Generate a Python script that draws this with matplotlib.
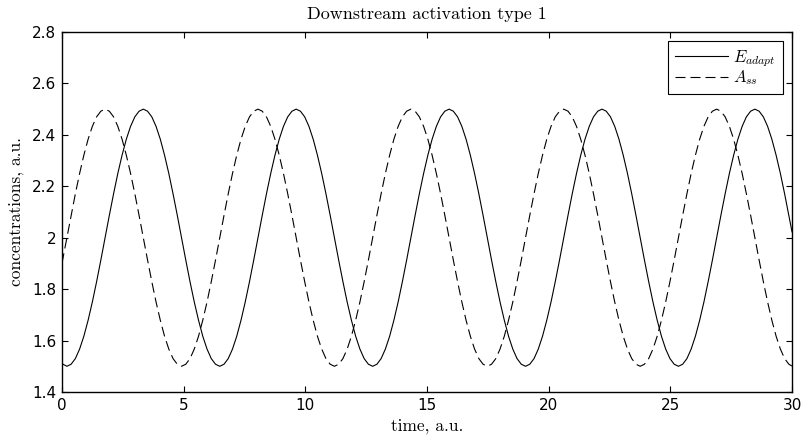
import matplotlib
matplotlib.use("Agg")
import matplotlib.pyplot as plt

time = [0.0,
    0.200, 0.375, 0.549, 0.724, 0.898, 1.073, 1.247, 1.422, 1.596,
    1.771, 1.945, 2.120, 2.294, 2.469, 2.643, 2.818, 2.993, 3.167,
    3.342, 3.516, 3.691, 3.865, 4.040, 4.214, 4.389, 4.563, 4.738,
    4.912, 5.087, 5.261, 5.436, 5.611, 5.785, 5.960, 6.134, 6.309,
    6.483, 6.658, 6.832, 7.007, 7.181, 7.356, 7.530, 7.705, 7.879,
    8.054, 8.229, 8.403, 8.578, 8.752, 8.927, 9.101, 9.276, 9.450,
    9.625, 9.799, 9.974, 10.148, 10.323, 10.497, 10.672, 10.847, 11.021,
    11.196, 11.370, 11.545, 11.719, 11.894, 12.068, 12.243, 12.417, 12.592,
    12.766, 12.941, 13.115, 13.290, 13.465, 13.639, 13.814, 13.988, 14.163,
    14.337, 14.512, 14.686, 14.861, 15.035, 15.210, 15.384, 15.559, 15.733,
    15.908, 16.082, 16.257, 16.432, 16.606, 16.781, 16.955, 17.130, 17.304,
    17.479, 17.653, 17.828, 18.002, 18.177, 18.351, 18.526, 18.700, 18.875,
    19.050, 19.224, 19.399, 19.573, 19.748, 19.922, 20.097, 20.271, 20.446,
    20.620, 20.795, 20.969, 21.144, 21.318, 21.493, 21.668, 21.842, 22.017,
    22.191, 22.366, 22.540, 22.715, 22.889, 23.064, 23.238, 23.413, 23.587,
    23.762, 23.936, 24.111, 24.286, 24.460, 24.635, 24.809, 24.984, 25.158,
    25.333, 25.507, 25.682, 25.856, 26.031, 26.205, 26.380, 26.554, 26.729,
    26.904, 27.078, 27.253, 27.427, 27.602, 27.776, 27.951, 28.125, 28.300,
    28.474, 28.649, 28.823, 28.998, 29.172, 29.347, 29.522, 29.696, 29.871,
    30.0]

E_adapt = [1.510,
    1.500, 1.508, 1.530, 1.567, 1.617, 1.679, 1.750, 1.829, 1.913,
    2.000, 2.087, 2.171, 2.250, 2.321, 2.383, 2.433, 2.470, 2.492,
    2.500, 2.492, 2.470, 2.433, 2.383, 2.321, 2.250, 2.171, 2.087,
    2.000, 1.913, 1.829, 1.750, 1.679, 1.617, 1.567, 1.530, 1.508,
    1.500, 1.508, 1.530, 1.567, 1.617, 1.679, 1.750, 1.829, 1.913,
    2.000, 2.087, 2.171, 2.250, 2.321, 2.383, 2.433, 2.470, 2.492,
    2.500, 2.492, 2.470, 2.433, 2.383, 2.321, 2.250, 2.171, 2.087,
    2.000, 1.913, 1.829, 1.750, 1.679, 1.617, 1.567, 1.530, 1.508,
    1.500, 1.508, 1.530, 1.567, 1.617, 1.679, 1.750, 1.829, 1.913,
    2.000, 2.087, 2.171, 2.250, 2.321, 2.383, 2.433, 2.470, 2.492,
    2.500, 2.492, 2.470, 2.433, 2.383, 2.321, 2.250, 2.171, 2.087,
    2.000, 1.913, 1.829, 1.750, 1.679, 1.617, 1.567, 1.530, 1.508,
    1.500, 1.508, 1.530, 1.567, 1.617, 1.679, 1.750, 1.829, 1.913,
    2.000, 2.087, 2.171, 2.250, 2.321, 2.383, 2.433, 2.470, 2.492,
    2.500, 2.492, 2.470, 2.433, 2.383, 2.321, 2.250, 2.171, 2.087,
    2.000, 1.913, 1.829, 1.750, 1.679, 1.617, 1.567, 1.530, 1.508,
    1.500, 1.508, 1.530, 1.567, 1.617, 1.679, 1.750, 1.829, 1.913,
    2.000, 2.087, 2.171, 2.250, 2.321, 2.383, 2.433, 2.470, 2.492,
    2.500, 2.492, 2.470, 2.433, 2.383, 2.321, 2.250, 2.171, 2.087,
    2.023]

A_ss = [1.901,
    2.000, 2.087, 2.171, 2.250, 2.321, 2.383, 2.433, 2.470, 2.492,
    2.500, 2.492, 2.470, 2.433, 2.383, 2.321, 2.250, 2.171, 2.087,
    2.000, 1.913, 1.829, 1.750, 1.679, 1.617, 1.567, 1.530, 1.508,
    1.500, 1.508, 1.530, 1.567, 1.617, 1.679, 1.750, 1.829, 1.913,
    2.000, 2.087, 2.171, 2.250, 2.321, 2.383, 2.433, 2.470, 2.492,
    2.500, 2.492, 2.470, 2.433, 2.383, 2.321, 2.250, 2.171, 2.087,
    2.000, 1.913, 1.829, 1.750, 1.679, 1.617, 1.567, 1.530, 1.508,
    1.500, 1.508, 1.530, 1.567, 1.617, 1.679, 1.750, 1.829, 1.913,
    2.000, 2.087, 2.171, 2.250, 2.321, 2.383, 2.433, 2.470, 2.492,
    2.500, 2.492, 2.470, 2.433, 2.383, 2.321, 2.250, 2.171, 2.087,
    2.000, 1.913, 1.829, 1.750, 1.679, 1.617, 1.567, 1.530, 1.508,
    1.500, 1.508, 1.530, 1.567, 1.617, 1.679, 1.750, 1.829, 1.913,
    2.000, 2.087, 2.171, 2.250, 2.321, 2.383, 2.433, 2.470, 2.492,
    2.500, 2.492, 2.470, 2.433, 2.383, 2.321, 2.250, 2.171, 2.087,
    2.000, 1.913, 1.829, 1.750, 1.679, 1.617, 1.567, 1.530, 1.508,
    1.500, 1.508, 1.530, 1.567, 1.617, 1.679, 1.750, 1.829, 1.913,
    2.000, 2.087, 2.171, 2.250, 2.321, 2.383, 2.433, 2.470, 2.492,
    2.500, 2.492, 2.470, 2.433, 2.383, 2.321, 2.250, 2.171, 2.087,
    2.000, 1.913, 1.829, 1.750, 1.679, 1.617, 1.567, 1.530, 1.508,
    1.501]

x_ticks = [0, 5, 10, 15, 20, 25, 30]
x_ticklabels = ["0", "5", "10", "15", "20", "25", "30"]
y_ticks = [1.4, 1.6, 1.8, 2.0, 2.2, 2.4, 2.6, 2.8]
y_ticklabels = ["1.4", "1.6", "1.8", "2", "2.2", "2.4", "2.6", "2.8"]

title = "Downstream activation type 1"
xlabel = "time, a.u."
ylabel = "concentrations, a.u."
legend_labels = [r"$E_{adapt}$", r"$A_{ss}$"]

# ---- drawing ----
plt.rcParams["mathtext.fontset"] = "cm"
plt.rcParams["lines.scale_dashes"] = False

fig = plt.figure(figsize=(8.01, 4.41), dpi=100)
ax = fig.add_axes([62 / 801, 1 - 392 / 441, 730 / 801, 360 / 441])

ax.plot(time, E_adapt, color="black", linewidth=0.8, linestyle="-", label=legend_labels[0])
ax.plot(time, A_ss, color="black", linewidth=0.8, linestyle=(0, (7.2, 3.6)), label=legend_labels[1])

ax.set_xlim(0, 30)
ax.set_ylim(1.4, 2.8)
ax.set_xticks(x_ticks)
ax.set_xticklabels(x_ticklabels)
ax.set_yticks(y_ticks)
ax.set_yticklabels(y_ticklabels)

for lab in ax.get_xticklabels() + ax.get_yticklabels():
    lab.set_family("DejaVu Sans")
    lab.set_fontsize(11)

ax.tick_params(direction="in", length=4.3, width=0.8, top=True, right=True, pad=4, colors="black")
for s in ax.spines.values():
    s.set_linewidth(1.0)
    s.set_color("black")

ax.set_title(title, family="cmr10", fontsize=13, pad=9)
ax.set_xlabel(xlabel, family="cmr10", fontsize=12.5, labelpad=4)
ax.set_ylabel(ylabel, family="cmr10", fontsize=12.5, labelpad=6)

leg = ax.legend(loc="upper right", bbox_to_anchor=(0.987, 0.975), borderaxespad=0,
                fontsize=12, handlelength=3.2, handletextpad=0.3, borderpad=0.4,
                labelspacing=0.0, fancybox=False, framealpha=1, edgecolor="black")
leg.get_frame().set_linewidth(0.8)

fig.savefig("out.png", dpi=100)
